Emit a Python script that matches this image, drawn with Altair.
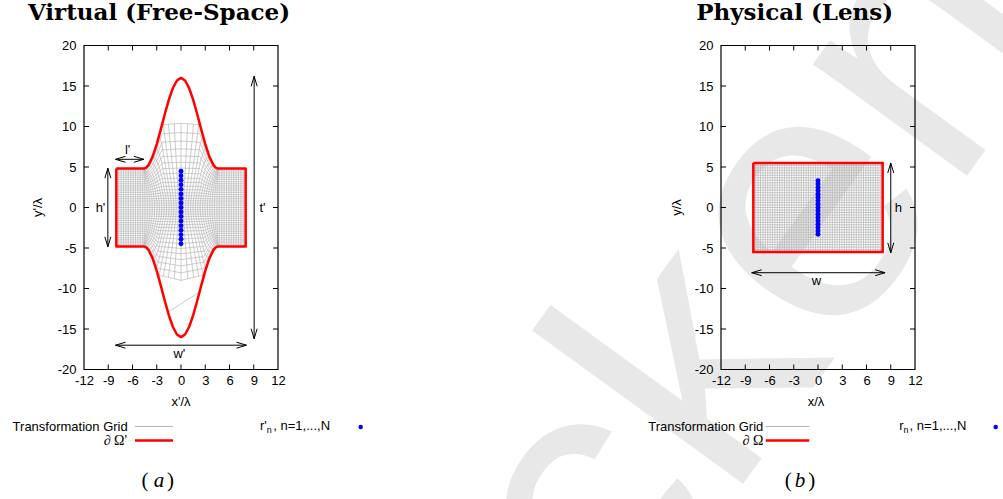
import altair as alt
import numpy as np
import pandas as pd

# ---------------- values ----------------
x_ticks = [-12, -9, -6, -3, 0, 3, 6, 9, 12]
y_ticks = [-20, -15, -10, -5, 0, 5, 10, 15, 20]
x_ticks_inner = [-9, -6, -3, 0, 3, 6, 9]
y_ticks_inner = [-15, -10, -5, 0, 5, 10, 15]

# virtual (free-space) domain
virt_half_w = 8.0
virt_half_h = 4.8
bump_x = [0.0, 0.5, 1.0, 1.5, 2.0, 2.5, 3.0, 3.5, 4.0, 4.3, 4.6]
bump_y = [16.0, 15.68, 14.75, 13.31, 11.54, 9.64, 7.83, 6.31, 5.26, 4.92, 4.8]
roof_x = [0.0, 2.5]
roof_top_y = [10.4, 10.2]
roof_bot_y = [9.0, 8.4]
stray_x = [-1.57, 2.27]
stray_y = [-12.9, -10.45]

# physical (lens) domain
phys_half_w = 8.0
phys_half_h = 5.5

# mesh resolution
grid_nx = 54
virt_ny = 36
phys_ny = 36

virt_dots_y = [4.48, 3.92, 3.36, 2.80, 2.24, 1.68, 1.12, 0.56, 0.0,
               -0.56, -1.12, -1.68, -2.24, -2.80, -3.36, -3.92, -4.48]
phys_dots_y = [3.3, 2.89, 2.48, 2.06, 1.65, 1.24, 0.83, 0.41, 0.0,
               -0.41, -0.83, -1.24, -1.65, -2.06, -2.48, -2.89, -3.3]

arrows_a_x1 = [-8.1, -9.05, 9.05, -8.1]
arrows_a_y1 = [5.95, 4.85, 16.2, -17.0]
arrows_a_x2 = [-4.6, -9.05, 9.05, 8.1]
arrows_a_y2 = [5.95, -4.85, -16.2, -17.0]
labels_a_text = ["l'", "h'", "t'", "w'"]
labels_a_x = [-6.6, -9.96, 10.08, -0.2]
labels_a_y = [7.1, 0.0, 0.0, -18.13]

arrows_b_x1 = [9.0, -8.2]
arrows_b_y1 = [5.5, -8.05]
arrows_b_x2 = [9.0, 8.3]
arrows_b_y2 = [-5.6, -8.05]
labels_b_text = ["h", "w"]
labels_b_x = [9.93, -0.2]
labels_b_y = [0.0, -9.05]

watermark_text = "cken"

# ---------------- styling ----------------
W, H = 194, 324
GAP = 443
GRID = "#b4b4b4"
RED = "#ff0000"
BLUE = "#0000ff"
SANS = "Liberation Sans"
SERIF = "Liberation Serif"

xs = alt.Scale(domain=[-12, 12], nice=False, zero=False)
ys = alt.Scale(domain=[-20, 20], nice=False, zero=False)
xax = alt.Axis(values=x_ticks, title=None, ticks=False, domain=False, grid=False,
               labelPadding=5, labelFlush=False, labelExpr="'' + datum.value", zindex=2)
yax = alt.Axis(values=y_ticks, title=None, ticks=False, domain=False, grid=False,
               labelPadding=8, labelFlush=False, labelExpr="'' + datum.value", zindex=2)


def X(f):
    return alt.X(f, type="quantitative", scale=xs, axis=xax)


def Y(f):
    return alt.Y(f, type="quantitative", scale=ys, axis=yax)


# ---------------- geometry of the meshes ----------------
bx = np.array(bump_x)
by = np.array(bump_y)
bump_half = bump_x[-1]


def envelope(xp, upper):
    b = np.interp(np.abs(xp), bx, by)
    r = np.interp(np.abs(xp), roof_x, roof_top_y if upper else roof_bot_y)
    return np.minimum(b, r)


def fan(u):
    a = np.minimum(np.abs(u), bump_half)
    return np.where(np.abs(u) < bump_half,
                    np.sign(u) * bump_half * (1 - (1 - a / bump_half) ** 3), u)


def vmap(u, s):
    a = np.abs(s)
    xp = u + (fan(u) - u) * a ** 2
    T = np.where(s >= 0, envelope(xp, True), envelope(xp, False))
    yp = np.sign(s) * (virt_half_h * a + (T - virt_half_h) * a ** 3)
    return xp, yp


rows = []
lid = 0
for u in np.linspace(-virt_half_w, virt_half_w, grid_nx + 1):
    s = np.linspace(-1, 1, 97)
    xp, yp = vmap(np.full_like(s, u), s)
    for k, (a, b) in enumerate(zip(xp, yp)):
        rows.append({"x": round(float(a), 3), "y": round(float(b), 3), "lid": lid, "o": k})
    lid += 1
for sv in np.linspace(-1, 1, virt_ny + 1):
    u = np.linspace(-virt_half_w, virt_half_w, 193)
    xp, yp = vmap(u, np.full_like(u, sv))
    for k, (a, b) in enumerate(zip(xp, yp)):
        rows.append({"x": round(float(a), 3), "y": round(float(b), 3), "lid": lid, "o": k})
    lid += 1
for k, (a, b) in enumerate(zip(stray_x, stray_y)):
    rows.append({"x": a, "y": b, "lid": lid, "o": k})
virt_grid = pd.DataFrame(rows)

rows = []
lid = 0
for xv in np.linspace(-phys_half_w, phys_half_w, grid_nx + 1):
    rows.append({"x": float(xv), "y": -phys_half_h, "lid": lid, "o": 0})
    rows.append({"x": float(xv), "y": phys_half_h, "lid": lid, "o": 1})
    lid += 1
for yv in np.linspace(-phys_half_h, phys_half_h, phys_ny + 1):
    rows.append({"x": -phys_half_w, "y": float(yv), "lid": lid, "o": 0})
    rows.append({"x": phys_half_w, "y": float(yv), "lid": lid, "o": 1})
    lid += 1
phys_grid = pd.DataFrame(rows)

# boundaries
top_x = [-b for b in bump_x[::-1]] + bump_x[1:]
top_y = bump_y[::-1] + bump_y[1:]
bx_list = [-virt_half_w] + top_x + [virt_half_w, virt_half_w] + top_x[::-1] + [-virt_half_w, -virt_half_w]
by_list = [virt_half_h] + top_y + [virt_half_h, -virt_half_h] + [-v for v in top_y[::-1]] + [-virt_half_h, virt_half_h]
virt_bound = pd.DataFrame({"x": bx_list, "y": by_list, "o": range(len(bx_list))})
phys_bound = pd.DataFrame({
    "x": [-phys_half_w, phys_half_w, phys_half_w, -phys_half_w, -phys_half_w],
    "y": [phys_half_h, phys_half_h, -phys_half_h, -phys_half_h, phys_half_h],
    "o": range(5)})

one = alt.Data(values=[{"a": 1}])


def text_at(txt, x, y, size=13, font=SANS, align="center", baseline="alphabetic",
            weight="normal", style="normal", angle=0, color="black"):
    kw = dict(text=txt, x=x, y=y, fontSize=size, font=font, align=align,
              baseline=baseline, fontWeight=weight, fontStyle=style, color=color)
    if angle:
        kw["angle"] = angle
    return alt.Chart(one).mark_text(**kw)


def arrows_layers(x1, y1, x2, y2, ltext, lx, ly):
    adf = pd.DataFrame({"x1": x1, "y1": y1, "x2": x2, "y2": y2})
    shafts = alt.Chart(adf).mark_rule(color="black", strokeWidth=1).encode(
        x=X("x1"), y=Y("y1"), x2="x2", y2="y2")
    hx, hy, ha = [], [], []
    for a, b, c, d in zip(x1, y1, x2, y2):
        for (px, py, qx, qy) in ((a, b, c, d), (c, d, a, b)):
            hx.append(px)
            hy.append(py)
            ha.append(float(np.degrees(np.arctan2(-(py - qy), px - qx)) % 360))
    hdf = pd.DataFrame({"x": hx, "y": hy, "ang": ha})
    heads = alt.Chart(hdf).mark_point(
        shape="M -1 -0.3 L 0 0 L -1 0.3", filled=False, color="black",
        strokeWidth=1, size=400, opacity=1).encode(
        x=X("x"), y=Y("y"), angle=alt.Angle("ang:Q", scale=None))
    ldf = pd.DataFrame({"t": ltext, "x": lx, "y": ly})
    labels = alt.Chart(ldf).mark_text(font=SANS, fontSize=13, color="black",
                                      baseline="middle").encode(
        x=X("x"), y=Y("y"), text="t:N")
    return [shafts, heads, labels]


def frame_layers():
    xt = pd.DataFrame({"t": x_ticks_inner})
    yt = pd.DataFrame({"t": y_ticks_inner})
    out = []
    for y0, y1 in ((0, 5), (H, H - 5)):
        out.append(alt.Chart(xt).mark_rule(color="black", strokeWidth=1).encode(
            x=X("t"), y=alt.value(y0), y2=alt.value(y1)))
    for x0, x1 in ((0, 5), (W, W - 5)):
        out.append(alt.Chart(yt).mark_rule(color="black", strokeWidth=1).encode(
            y=Y("t"), x=alt.value(x0), x2=alt.value(x1)))
    out.append(alt.Chart(one).mark_rect(filled=False, stroke="black", strokeWidth=1.2).encode(
        x=alt.value(0), x2=alt.value(W), y=alt.value(0), y2=alt.value(H)))
    return out


def legend_line(x0, x1, y, color, width):
    return alt.Chart(one).mark_rule(color=color, strokeWidth=width).encode(
        x=alt.value(x0), x2=alt.value(x1), y=alt.value(y))


def legend_dot(x, y):
    return alt.Chart(one).mark_circle(color=BLUE, size=20, opacity=1).encode(
        x=alt.value(x), y=alt.value(y))


# ---------------- panel (a) ----------------
layers_a = [
    alt.Chart(virt_grid).mark_line(color=GRID, strokeWidth=0.7).encode(
        x=X("x"), y=Y("y"), detail="lid:N", order="o:Q"),
    alt.Chart(virt_bound).mark_line(color=RED, strokeWidth=2.5, strokeJoin="round").encode(
        x=X("x"), y=Y("y"), order="o:Q"),
    alt.Chart(pd.DataFrame({"x": [0.0] * len(virt_dots_y), "y": virt_dots_y})).mark_circle(
        color=BLUE, size=24, opacity=1).encode(x=X("x"), y=Y("y")),
]
layers_a += arrows_layers(arrows_a_x1, arrows_a_y1, arrows_a_x2, arrows_a_y2,
                          labels_a_text, labels_a_x, labels_a_y)
layers_a += frame_layers()
layers_a += [
    text_at("Virtual (Free-Space)", 75, -25.2, size=23, font="DejaVu Serif", weight="bold"),
    text_at("x'/λ", 97, 360.5),
    text_at("y'/λ", -46, H / 2, angle=270, baseline="middle"),
    text_at("Transformation Grid", 43.7, 385.3, align="right"),
    legend_line(51, 89, 381, GRID, 1),
    text_at("∂ Ω'", 43, 399, font=SERIF, size=14, align="right"),
    legend_line(51, 89, 395, RED, 2.5),
    text_at("r'", 176, 384.3, align="left"),
    text_at("n", 182.8, 387.8, size=9, align="left"),
    text_at(", n=1,...,N", 189.3, 384.3, align="left"),
    legend_dot(276.7, 381.6),
    text_at("(", 64.5, 441.3, size=21, font=SERIF, align="right"),
    text_at("a", 75, 441.3, size=21, font=SERIF, style="italic"),
    text_at(")", 83, 441.3, size=21, font=SERIF, align="left"),
]
panel_a = alt.layer(*layers_a).properties(width=W, height=H)

# ---------------- panel (b) ----------------
layers_b = [
    text_at(watermark_text, -98, 603.6, size=360, color="#e8e8e8", angle=306, align="left"),
    alt.Chart(phys_grid).mark_line(color=GRID, strokeWidth=0.7).encode(
        x=X("x"), y=Y("y"), detail="lid:N", order="o:Q"),
    alt.Chart(phys_bound).mark_line(color=RED, strokeWidth=2.5, strokeJoin="miter").encode(
        x=X("x"), y=Y("y"), order="o:Q"),
    alt.Chart(pd.DataFrame({"x": [0.0] * len(phys_dots_y), "y": phys_dots_y})).mark_circle(
        color=BLUE, size=24, opacity=1).encode(x=X("x"), y=Y("y")),
]
layers_b += arrows_layers(arrows_b_x1, arrows_b_y1, arrows_b_x2, arrows_b_y2,
                          labels_b_text, labels_b_x, labels_b_y)
layers_b += frame_layers()
layers_b += [
    text_at("Physical (Lens)", 73.7, -25.2, size=23, font="DejaVu Serif", weight="bold"),
    text_at("x/λ", 95, 360.5),
    text_at("y/λ", -44.3, H / 2, angle=270, baseline="middle"),
    text_at("Transformation Grid", 42.3, 385.3, align="right"),
    legend_line(44.7, 88.3, 381, GRID, 1),
    text_at("∂ Ω", 42.3, 399, font=SERIF, size=14, align="right"),
    legend_line(44.7, 88.3, 395, RED, 2.5),
    text_at("r", 178.3, 384.3, align="left"),
    text_at("n", 182.6, 387.8, size=9, align="left"),
    text_at(", n=1,...,N", 188.6, 384.3, align="left"),
    legend_dot(274.7, 381.6),
    text_at("(", 70.7, 441.3, size=21, font=SERIF, align="right"),
    text_at("b", 79, 441.3, size=21, font=SERIF, style="italic"),
    text_at(")", 87.3, 441.3, size=21, font=SERIF, align="left"),
]
panel_b = alt.layer(*layers_b).properties(width=W, height=H)

chart = alt.hconcat(panel_a, panel_b, spacing=GAP, bounds="flush").properties(
    padding={"left": 84, "top": 45.5, "right": 88, "bottom": 129.5},
    autosize=alt.AutoSizeParams(type="none"),
    params=[alt.VariableParameter(name="width", value=W + GAP + W),
            alt.VariableParameter(name="height", value=H)],
).configure_view(stroke=None).configure_axis(
    labelFont=SANS, labelFontSize=13, labelColor="black")

chart.save("out.html", embed_options={"renderer": "svg", "actions": False})
